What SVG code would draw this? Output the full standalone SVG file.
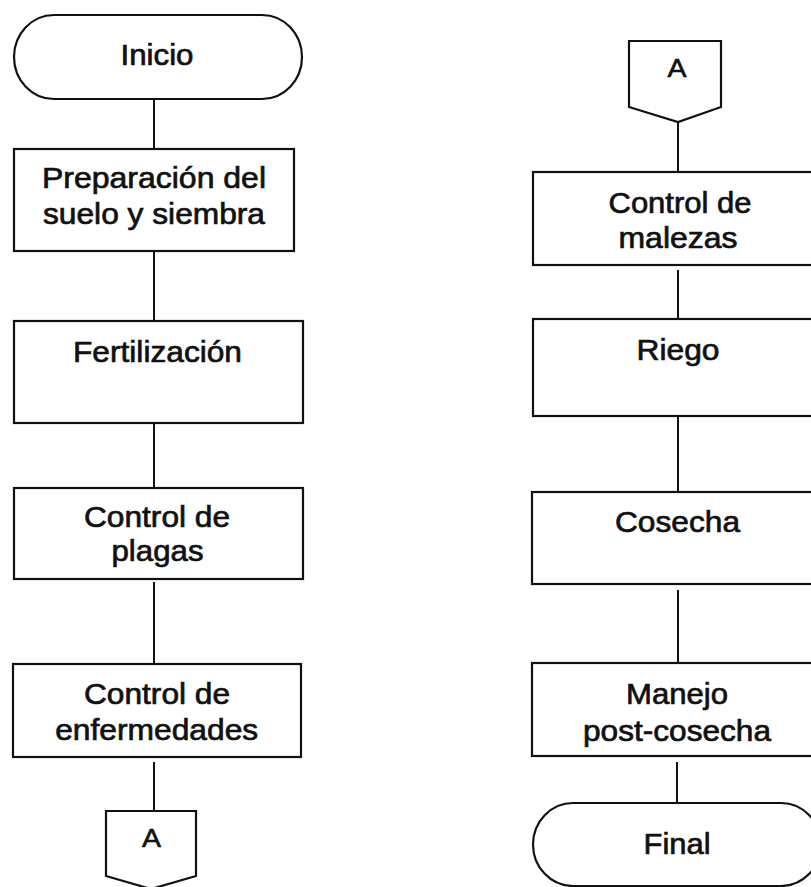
<svg xmlns="http://www.w3.org/2000/svg" width="811" height="887" viewBox="0 0 811 887">
<style>
.shape{fill:#fff;stroke:#111;stroke-width:2.2}
.conn{stroke:#111;stroke-width:2;fill:none}
.t{font-family:"Liberation Sans",Arial,sans-serif;font-size:30px;fill:#111;stroke:#111;stroke-width:0.7;text-anchor:middle}
.a{font-family:"Liberation Sans",Arial,sans-serif;font-size:26px;fill:#111;stroke:#111;stroke-width:0.6;text-anchor:middle}
</style>
<rect width="811" height="887" fill="#fff"/>
<g id="connectors">
<line class="conn" x1="154" y1="99" x2="154" y2="149"/>
<line class="conn" x1="154" y1="251" x2="154" y2="321"/>
<line class="conn" x1="154" y1="423" x2="154" y2="488"/>
<line class="conn" x1="154" y1="582" x2="154" y2="664"/>
<line class="conn" x1="154" y1="762" x2="154" y2="811"/>
<line class="conn" x1="678" y1="122" x2="678" y2="172"/>
<line class="conn" x1="678" y1="270" x2="678" y2="319"/>
<line class="conn" x1="678" y1="416" x2="678" y2="492"/>
<line class="conn" x1="678" y1="590" x2="678" y2="663"/>
<line class="conn" x1="677" y1="762" x2="677" y2="803"/>
</g>
<g id="inicio">
<rect class="shape" x="14" y="15" width="288" height="84" rx="40" ry="42"/>
<text class="t" x="157" y="65" textLength="73" lengthAdjust="spacingAndGlyphs">Inicio</text>
</g>
<g id="preparacion">
<rect class="shape" x="14" y="149" width="280" height="102"/>
<text class="t" x="154" y="188" textLength="224" lengthAdjust="spacingAndGlyphs">Preparación del</text>
<text class="t" x="154" y="224" textLength="222" lengthAdjust="spacingAndGlyphs">suelo y siembra</text>
</g>
<g id="fertilizacion">
<rect class="shape" x="14" y="321" width="289" height="102"/>
<text class="t" x="157.5" y="362" textLength="169" lengthAdjust="spacingAndGlyphs">Fertilización</text>
</g>
<g id="plagas">
<rect class="shape" x="14" y="488" width="289" height="91"/>
<text class="t" x="157" y="527" textLength="146" lengthAdjust="spacingAndGlyphs">Control de</text>
<text class="t" x="157.5" y="561" textLength="92" lengthAdjust="spacingAndGlyphs">plagas</text>
</g>
<g id="enfermedades">
<rect class="shape" x="13" y="664" width="288" height="93"/>
<text class="t" x="157" y="704" textLength="146" lengthAdjust="spacingAndGlyphs">Control de</text>
<text class="t" x="156.7" y="740" textLength="203" lengthAdjust="spacingAndGlyphs">enfermedades</text>
</g>
<g id="conectorA1">
<path class="shape" d="M106 811 H196 V876 L151 889 L106 876 Z"/>
<text class="a" x="151.5" y="847" textLength="19" lengthAdjust="spacingAndGlyphs">A</text>
</g>
<g id="conectorA2">
<path class="shape" d="M629 41 H721 V107 L678 122 L629 107 Z"/>
<text class="a" x="677" y="77" textLength="19" lengthAdjust="spacingAndGlyphs">A</text>
</g>
<g id="malezas">
<rect class="shape" x="533" y="172" width="290" height="93"/>
<text class="t" x="680" y="213" textLength="143" lengthAdjust="spacingAndGlyphs">Control de</text>
<text class="t" x="678" y="248" textLength="119" lengthAdjust="spacingAndGlyphs">malezas</text>
</g>
<g id="riego">
<rect class="shape" x="533" y="319" width="290" height="97"/>
<text class="t" x="678" y="360" textLength="83" lengthAdjust="spacingAndGlyphs">Riego</text>
</g>
<g id="cosecha">
<rect class="shape" x="532" y="492" width="291" height="92"/>
<text class="t" x="677.5" y="532" textLength="125" lengthAdjust="spacingAndGlyphs">Cosecha</text>
</g>
<g id="postcosecha">
<rect class="shape" x="532" y="663" width="291" height="93"/>
<text class="t" x="677" y="704" textLength="102" lengthAdjust="spacingAndGlyphs">Manejo</text>
<text class="t" x="677" y="741" textLength="188" lengthAdjust="spacingAndGlyphs">post-cosecha</text>
</g>
<g id="final">
<rect class="shape" x="533" y="803" width="288" height="83" rx="40" ry="41.5"/>
<text class="t" x="677" y="854" textLength="67" lengthAdjust="spacingAndGlyphs">Final</text>
</g>
</svg>
